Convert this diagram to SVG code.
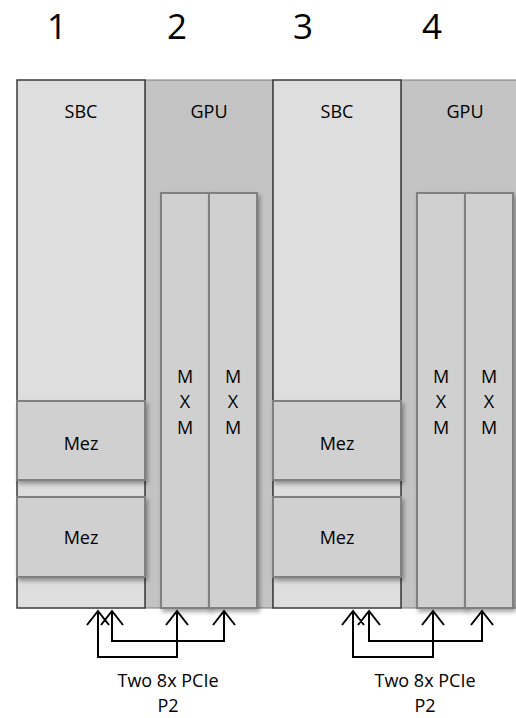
<svg xmlns="http://www.w3.org/2000/svg" width="516" height="718" viewBox="0 0 516 718">
<defs>
<filter id="sh" x="-20%" y="-20%" width="150%" height="150%">
<feDropShadow dx="2" dy="3" stdDeviation="2" flood-color="#000" flood-opacity="0.35"/>
</filter>
</defs>
<style>
text{font-family:"Open Sans","Liberation Sans",sans-serif;fill:#000;text-anchor:middle}
.num{font-size:35px}
.lbl{font-size:18px}
.sbc{fill:#dedede;stroke:#3a3a3a;stroke-width:1.5}
.gpu{fill:#c3c3c3;stroke:#7a7a7a;stroke-width:1}
.box{fill:#d0d0d0;stroke:#808080;stroke-width:2;filter:url(#sh)}
.con{fill:none;stroke:#000;stroke-width:2}
</style>
<rect width="516" height="718" fill="#fff"/>
<g id="numbers">
<text class="num" x="57" y="39">1</text>
<text class="num" x="177" y="39">2</text>
<text class="num" x="303" y="39">3</text>
<text class="num" x="432" y="39">4</text>
</g>
<g id="gpu2">
<rect class="gpu" x="145" y="80" width="128" height="528"/>
<text class="lbl" x="209" y="118">GPU</text>
</g>
<g id="gpu4">
<rect class="gpu" x="401" y="80" width="128" height="528"/>
<text class="lbl" x="465" y="118">GPU</text>
</g>
<g id="sbc1">
<rect class="sbc" x="17" y="80" width="128" height="528"/>
<text class="lbl" x="81" y="118">SBC</text>
</g>
<g id="sbc3">
<rect class="sbc" x="273" y="80" width="128" height="528"/>
<text class="lbl" x="337" y="118">SBC</text>
</g>
<g id="mez1a">
<rect class="box" x="17" y="401" width="128" height="79"/>
<text class="lbl" x="81" y="450">Mez</text>
</g>
<g id="mez1b">
<rect class="box" x="17" y="497" width="128" height="80"/>
<text class="lbl" x="81" y="544">Mez</text>
</g>
<g id="mez3a">
<rect class="box" x="273" y="401" width="128" height="79"/>
<text class="lbl" x="337" y="450">Mez</text>
</g>
<g id="mez3b">
<rect class="box" x="273" y="497" width="128" height="80"/>
<text class="lbl" x="337" y="544">Mez</text>
</g>
<g id="mxm2a">
<rect class="box" x="161" y="193" width="48" height="415"/>
<text class="lbl" x="185" y="383">M</text><text class="lbl" x="185" y="408">X</text><text class="lbl" x="185" y="434">M</text>
</g>
<g id="mxm2b">
<rect class="box" x="209" y="193" width="48" height="415"/>
<text class="lbl" x="233" y="383">M</text><text class="lbl" x="233" y="408">X</text><text class="lbl" x="233" y="434">M</text>
</g>
<g id="mxm4a">
<rect class="box" x="417" y="193" width="48" height="415"/>
<text class="lbl" x="441" y="383">M</text><text class="lbl" x="441" y="408">X</text><text class="lbl" x="441" y="434">M</text>
</g>
<g id="mxm4b">
<rect class="box" x="465" y="193" width="48" height="415"/>
<text class="lbl" x="489" y="383">M</text><text class="lbl" x="489" y="408">X</text><text class="lbl" x="489" y="434">M</text>
</g>
<g id="connectors">
<path class="con" d="M98 611 V657 H177 V611"/>
<path class="con" d="M112 611 V641 H224 V611"/>
<path class="con" d="M87 625 L98 611 L109 625 M101 625 L112 611 L123 625 M166 625 L177 611 L188 625 M213 625 L224 611 L235 625"/>
<path class="con" d="M353 611 V657 H433 V611"/>
<path class="con" d="M369 611 V641 H482 V611"/>
<path class="con" d="M342 625 L353 611 L364 625 M358 625 L369 611 L380 625 M422 625 L433 611 L444 625 M471 625 L482 611 L493 625"/>
</g>
<g id="label-left">
<text class="lbl" x="168" y="687">Two 8x PCIe</text>
<text class="lbl" x="168" y="712">P2</text>
</g>
<g id="label-right">
<text class="lbl" x="425" y="687">Two 8x PCIe</text>
<text class="lbl" x="425" y="712">P2</text>
</g>
</svg>
